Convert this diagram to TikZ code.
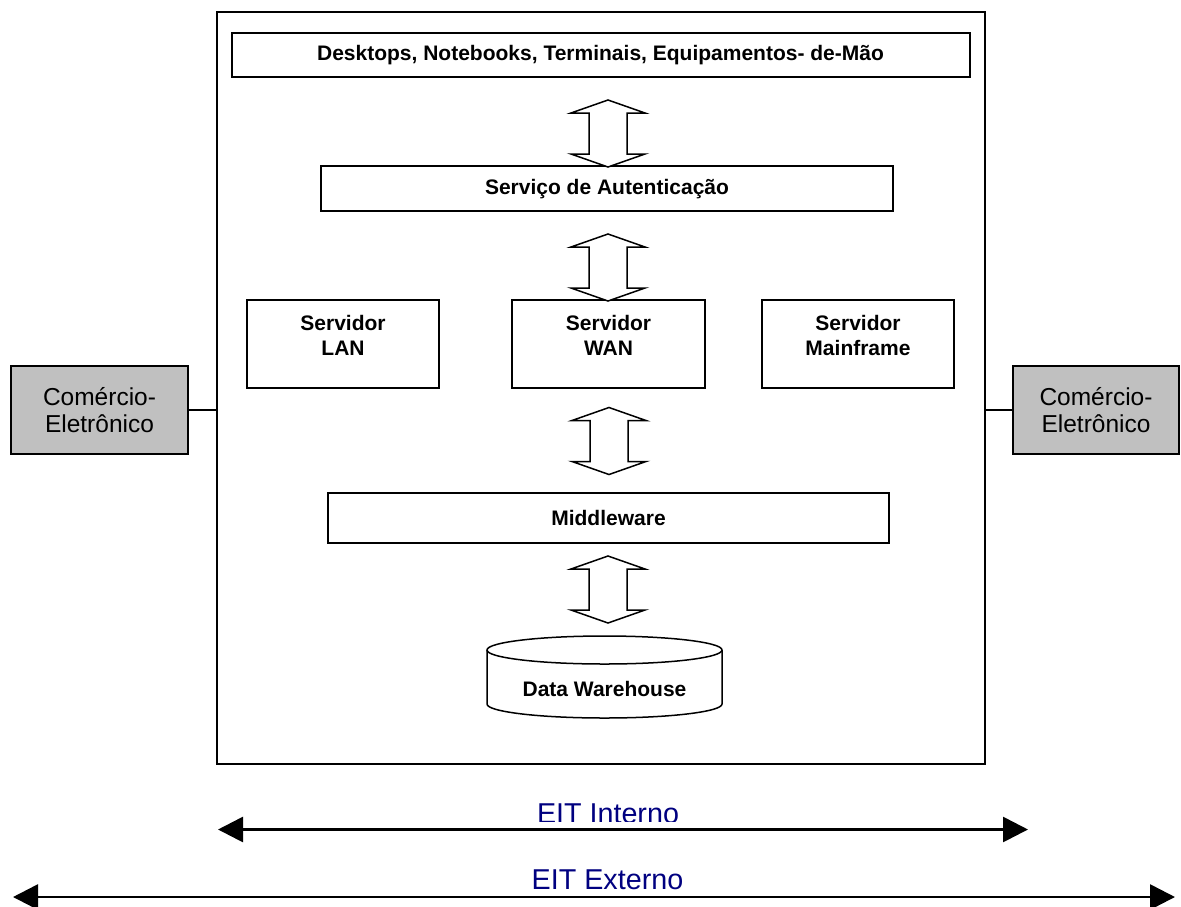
\documentclass[tikz,border=0pt]{standalone}
\usepackage{fontspec}
\setmainfont{Liberation Sans}
\usetikzlibrary{arrows.meta}
\definecolor{eitblue}{RGB}{0,0,128}
\definecolor{boxgrey}{RGB}{192,192,192}
\begin{document}
\begin{tikzpicture}[x=1pt,y=-1pt,
  box/.style={draw=black, line width=1.5pt, rectangle, inner sep=0pt, fill=white},
  boldtxt/.style={font=\fontsize{21}{25}\selectfont\bfseries, align=center, inner sep=0pt},
  greybox/.style={draw=black, line width=1.5pt, fill=boxgrey, rectangle, inner sep=0pt,
    font=\fontsize{24.5}{27.5}\selectfont, align=center},
  eit/.style={font=\fontsize{28.7}{32}\selectfont, text=eitblue, inner sep=0pt, anchor=base},
  span/.style={line width=2.7pt, {Triangle[length=25pt,width=25pt]}-{Triangle[length=25pt,width=25pt]}},
  link/.style={line width=1.2pt},
  blockarrow/.pic={
    \draw[line width=1.5pt, fill=white, line join=miter]
      (0,-33.5) -- (37,-20.5) -- (19,-20.5) -- (19,20.5) -- (37,20.5) -- (0,33.5)
      -- (-37,20.5) -- (-19,20.5) -- (-19,-20.5) -- (-37,-20.5) -- cycle;
  }
]
\useasboundingbox (0,0) rectangle (1181,906);

% enterprise frame
\node[box, minimum width=768pt, minimum height=752pt] (main) at (601,388) {};

% layers inside the frame
\node[box, minimum width=738pt, minimum height=44pt] (dev) at (601,55) {};
\node[boldtxt] (devT) at (600.5,55) {Desktops, Notebooks, Terminais, Equipamentos- de-Mão};

\node[box, minimum width=572pt, minimum height=45pt] (auth) at (607,188.5) {};
\node[boldtxt] (authT) at (607,189) {Serviço de Autenticação};

\node[box, minimum width=192pt, minimum height=88pt] (lan) at (343,344) {};
\node[boldtxt] (lanT) at (343,335.5) {Servidor\\LAN};
\node[box, minimum width=193pt, minimum height=88pt] (wan) at (608.5,344) {};
\node[boldtxt] (wanT) at (608.5,335.5) {Servidor\\WAN};
\node[box, minimum width=192pt, minimum height=88pt] (mf) at (858,344) {};
\node[boldtxt] (mfT) at (858,335.5) {Servidor\\Mainframe};

\node[box, minimum width=561pt, minimum height=50pt] (mid) at (608.5,518) {};
\node[boldtxt] (midT) at (608.5,517.5) {Middleware};

% data warehouse cylinder
\coordinate (dw) at (604.5,677);
\draw[line width=1.5pt, fill=white]
  (487,650) -- (487,704) arc[start angle=180, end angle=360, x radius=117.5pt, y radius=14pt]
  -- (722,650);
\draw[line width=1.5pt, fill=white] (604.5,650) ellipse[x radius=117.5pt, y radius=14pt];
\node[boldtxt] (dwT) at (604.5,689) {Data Warehouse};

% block arrows between the layers
\pic at (608,133.5) {blockarrow};
\pic at (608,267.5) {blockarrow};
\pic at (609,441) {blockarrow};
\pic at (608,589.5) {blockarrow};

% e-commerce boxes on both sides
\node[greybox, minimum width=177pt, minimum height=88pt] (gl) at (99.5,410) {Comércio-\\Eletrônico};
\node[greybox, minimum width=166pt, minimum height=88pt] (gr) at (1096,410) {Comércio-\\Eletrônico};
\draw[link] (gl.east) -- (main.west |- gl.east);
\draw[link] (gr.west) -- (main.east |- gr.west);

% scope arrows
\coordinate (inL) at (218,829.5);
\coordinate (inR) at (1028,829.5);
\coordinate (exL) at (13,897);
\coordinate (exR) at (1175,897);
\begin{scope}
  \clip (480,780) rectangle (740,821);
  \node[eit] (eitIn) at (608,823) {EIT Interno};
\end{scope}
\draw[span] (inL) -- (inR);
\node[eit] (eitEx) at (607.5,889) {EIT Externo};
\draw[span] (exL) -- (exR);
\end{tikzpicture}
\end{document}
